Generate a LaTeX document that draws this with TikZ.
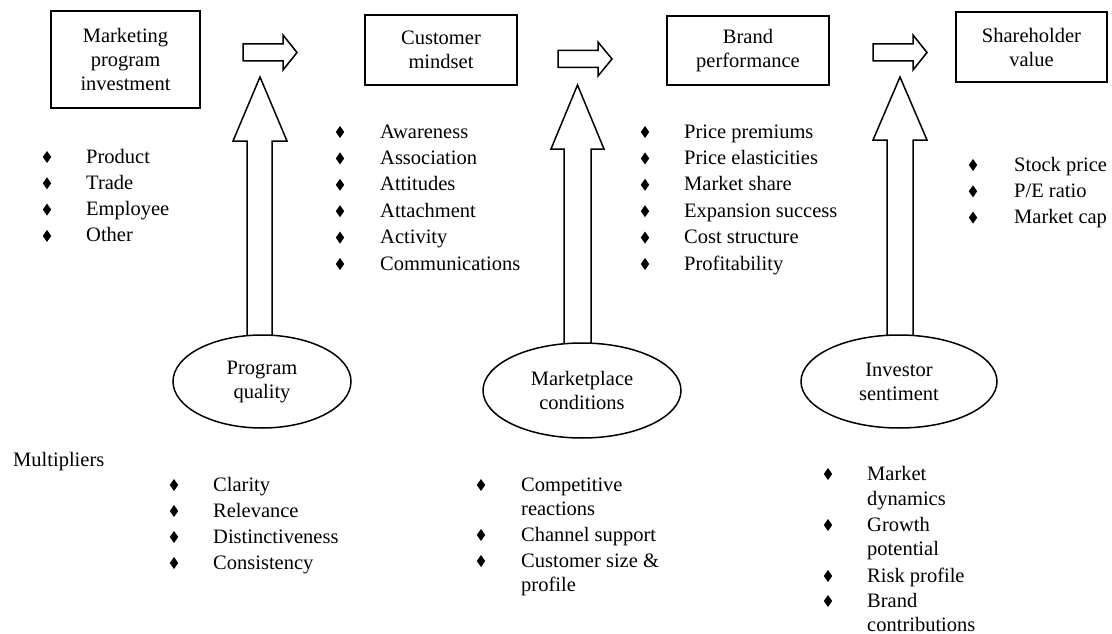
\documentclass[tikz,border=0pt]{standalone}
\usepackage{fontspec}
\setmainfont{Liberation Serif}
\usetikzlibrary{shapes.geometric}
\newcommand\fsz{\fontsize{20.5}{24}\selectfont}
\newcommand\bul[2]{\fill (#1,#2-6) +(0,-6) -- +(4.2,0) -- +(0,6) -- +(-4.2,0) -- cycle;}
\tikzset{
  box/.style={draw, line width=1.8pt, inner sep=0pt, align=center, font=\fsz},
  oval/.style={draw, ellipse, line width=1.5pt, fill=white, inner sep=0pt, align=center, font=\fsz},
  blockarrow/.style={draw, line width=1.5pt, fill=white, line join=miter},
  item/.style={anchor=base west, inner sep=0pt, font=\fsz},
}
\begin{document}
\begin{tikzpicture}[x=1pt,y=-1pt]
\useasboundingbox (0,0) rectangle (1112,634);

% boxes
\node[box, minimum width=149pt, minimum height=97pt] (mpi) at (125.5,59.5) {Marketing\\program\\investment};
\node[box, minimum width=152pt, minimum height=70pt] (cm) at (441,50) {Customer\\mindset};
\node[box, minimum width=162pt, minimum height=69pt] (bp) at (748,50.5) {Brand\\performance};
\node[box, minimum width=151pt, minimum height=70pt] (sv) at (1031.5,47) {Shareholder\\value};

% horizontal block arrows
\draw[blockarrow] (243,44) -- (283,44) -- (283,35) -- (297,52.5) -- (283,70) -- (283,61) -- (243,61) -- cycle;
\draw[blockarrow] (558,50.5) -- (598,50.5) -- (598,42) -- (612,59) -- (598,76) -- (598,67.5) -- (558,67.5) -- cycle;
\draw[blockarrow] (873,44) -- (913,44) -- (913,35) -- (927,52.5) -- (913,70) -- (913,61) -- (873,61) -- cycle;

% vertical block arrows
\draw[blockarrow] (247,381) -- (247,141) -- (233,141) -- (260,77) -- (287,141) -- (272,141) -- (272,381);
\draw[blockarrow] (564,390) -- (564,149) -- (551,149) -- (577.5,85) -- (604,149) -- (591,149) -- (591,390);
\draw[blockarrow] (887,381) -- (887,140) -- (873,140) -- (900,77) -- (927,140) -- (913,140) -- (913,381);

% ellipses
\node[oval, minimum width=178pt, minimum height=93pt] (pq) at (262,381.5) {Program\\quality};
\node[oval, minimum width=198pt, minimum height=95pt] (mc) at (582,390.5) {Marketplace\\conditions};
\node[oval, minimum width=196pt, minimum height=93pt] (is) at (899,381.5) {Investor\\sentiment};

% list under marketing program investment
\foreach \t [count=\i] in {Product,Trade,Employee,Other}{
  \pgfmathsetmacro\yy{163+26.3*(\i-1)}
  \bul{47}{\yy}
  \node[item] (a\i) at (86,\yy) {\t};
}
% customer mindset list
\foreach \t [count=\i] in {Awareness,Association,Attitudes,Attachment,Activity,Communications}{
  \pgfmathsetmacro\yy{138+26.4*(\i-1)}
  \bul{340}{\yy}
  \node[item] (b\i) at (380,\yy) {\t};
}
% brand performance list
\foreach \t [count=\i] in {Price premiums,Price elasticities,Market share,Expansion success,Cost structure,Profitability}{
  \pgfmathsetmacro\yy{138+26.4*(\i-1)}
  \bul{645}{\yy}
  \node[item] (c\i) at (684,\yy) {\t};
}
% shareholder value list
\foreach \t [count=\i] in {Stock price,P/E ratio,Market cap}{
  \pgfmathsetmacro\yy{171+26.3*(\i-1)}
  \bul{973}{\yy}
  \node[item] (d\i) at (1014,\yy) {\t};
}

\node[item] (mult) at (13,466) {Multipliers};

% program quality list
\foreach \t [count=\i] in {Clarity,Relevance,Distinctiveness,Consistency}{
  \pgfmathsetmacro\yy{491+26*(\i-1)}
  \bul{174}{\yy}
  \node[item] (e\i) at (213,\yy) {\t};
}

% marketplace conditions list
\bul{481}{491}
\node[item] (f1) at (521,491) {Competitive};
\node[item] (f1b) at (521,515) {reactions};
\bul{481}{541}
\node[item] (f2) at (521,541) {Channel support};
\bul{481}{567}
\node[item] (f3) at (521,567) {Customer size \&};
\node[item] (f3b) at (521,591) {profile};

% investor sentiment list
\bul{828}{480}
\node[item] (g1) at (867,480) {Market};
\node[item] (g1b) at (867,505) {dynamics};
\bul{828}{531}
\node[item] (g2) at (867,531) {Growth};
\node[item] (g2b) at (867,555) {potential};
\bul{828}{582}
\node[item] (g3) at (867,582) {Risk profile};
\bul{828}{607}
\node[item] (g4) at (867,607) {Brand};
\node[item] (g4b) at (867,631) {contributions};
\end{tikzpicture}
\end{document}
